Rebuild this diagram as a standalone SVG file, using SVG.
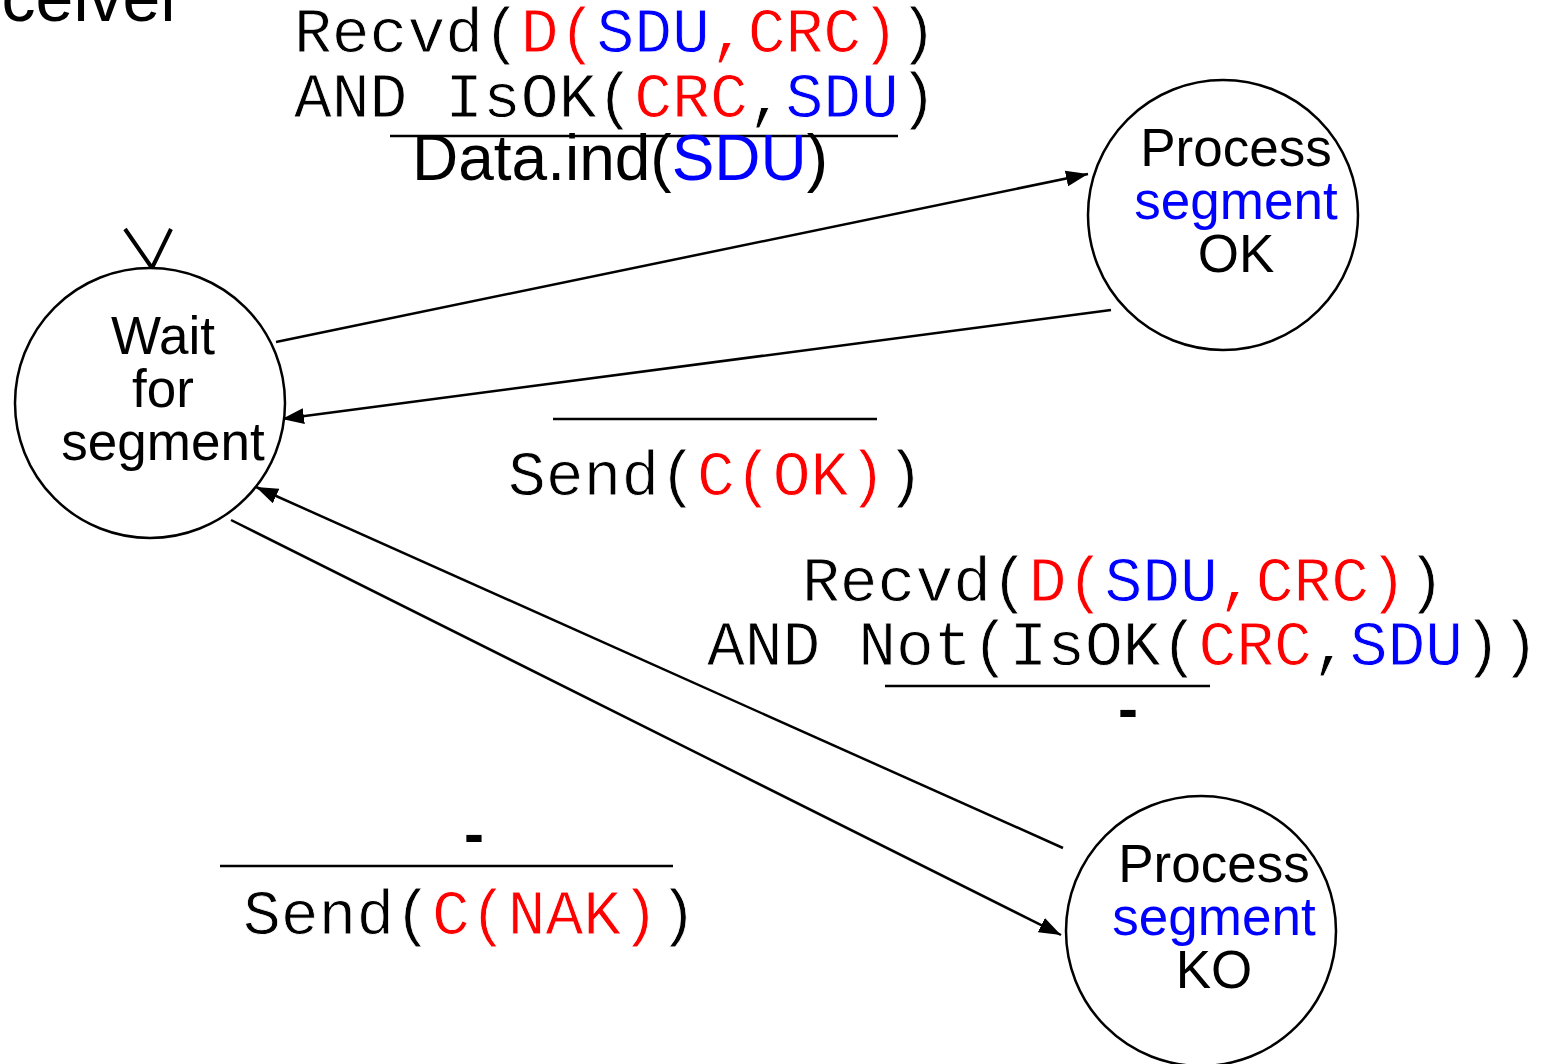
<svg xmlns="http://www.w3.org/2000/svg" width="1544" height="1064" viewBox="0 0 1544 1064">
  <style>
    .state { fill: #ffffff; stroke: #000000; stroke-width: 2.5; }
    .label { font-family: "Liberation Sans", Arial, sans-serif; font-size: 53px; text-anchor: middle; fill: #000000; }
    .code { font-family: "Liberation Mono", "Courier New", monospace; font-size: 63px; fill: #000000; stroke: #ffffff; stroke-width: 0.8px; paint-order: normal; }
    .sans { font-family: "Liberation Sans", Arial, sans-serif; fill: #000000; }
    .red { fill: #ff0000; }
    .blue { fill: #0000ff; }
    .edge { stroke: #000000; stroke-width: 2.5; fill: none; marker-end: url(#arrow); }
    .bar { stroke: #000000; stroke-width: 2.5; }
  </style>
  <defs>
    <marker id="arrow" markerUnits="userSpaceOnUse" markerWidth="24" markerHeight="16" refX="22" refY="8" orient="auto">
      <path d="M0,0 L22,8 L0,16 Z" fill="#000000"/>
    </marker>
  </defs>

  <rect width="1544" height="1064" fill="#ffffff"/>

  <!-- title, partly outside the page -->
  <text class="sans" x="183" y="21" font-size="68" text-anchor="end">Receiver</text>

  <!-- transitions -->
  <g id="connectors">
    <line class="edge" x1="276" y1="342" x2="1088" y2="174"/>
    <line class="edge" x1="1111" y1="310" x2="282" y2="419"/>
    <line class="edge" x1="1063" y1="848" x2="256" y2="487"/>
    <line class="edge" x1="231" y1="520" x2="1061" y2="935"/>
    <!-- initial state mark -->
    <path d="M125,229 L152,268 L171,229" fill="none" stroke="#000000" stroke-width="4"/>
  </g>

  <!-- states -->
  <g id="wait">
    <circle class="state" cx="150" cy="403" r="135"/>
    <text class="label" x="163" y="354">Wait</text>
    <text class="label" x="163" y="407">for</text>
    <text class="label" x="163" y="460">segment</text>
  </g>
  <g id="process-ok">
    <circle class="state" cx="1223" cy="215" r="135"/>
    <text class="label" x="1236" y="166">Process</text>
    <text class="label blue" x="1236" y="219">segment</text>
    <text class="label" x="1236" y="272">OK</text>
  </g>
  <g id="process-ko">
    <circle class="state" cx="1201" cy="931" r="135"/>
    <text class="label" x="1214" y="882">Process</text>
    <text class="label blue" x="1214" y="935">segment</text>
    <text class="label" x="1214" y="988">KO</text>
  </g>

  <!-- transition labels -->
  <g id="label-ok-in">
    <text class="code" x="294" y="52">Recvd(<tspan class="red">D(</tspan><tspan class="blue">SDU</tspan><tspan class="red">,CRC)</tspan>)</text>
    <text class="code" x="294" y="117">AND IsOK(<tspan class="red">CRC</tspan>,<tspan class="blue">SDU</tspan>)</text>
    <line class="bar" x1="390" y1="136" x2="898" y2="136"/>
    <text class="sans" x="620" y="180" font-size="64" text-anchor="middle">Data.ind(<tspan class="blue">SDU</tspan>)</text>
  </g>
  <g id="label-ok-out">
    <line class="bar" x1="553" y1="419" x2="877" y2="419"/>
    <text class="code" x="508" y="495">Send(<tspan class="red">C(OK)</tspan>)</text>
  </g>
  <g id="label-ko-in">
    <text class="code" x="802" y="601">Recvd(<tspan class="red">D(</tspan><tspan class="blue">SDU</tspan><tspan class="red">,CRC)</tspan>)</text>
    <text class="code" x="707" y="665">AND Not(IsOK(<tspan class="red">CRC</tspan>,<tspan class="blue">SDU</tspan>))</text>
    <line class="bar" x1="885" y1="686" x2="1210" y2="686"/>
    <text class="sans" x="1128" y="729" font-size="60" font-weight="bold" text-anchor="middle">-</text>
  </g>
  <g id="label-ko-out">
    <text class="sans" x="474" y="854" font-size="60" font-weight="bold" text-anchor="middle">-</text>
    <line class="bar" x1="220" y1="866" x2="673" y2="866"/>
    <text class="code" x="243" y="934">Send(<tspan class="red">C(NAK)</tspan>)</text>
  </g>
</svg>
